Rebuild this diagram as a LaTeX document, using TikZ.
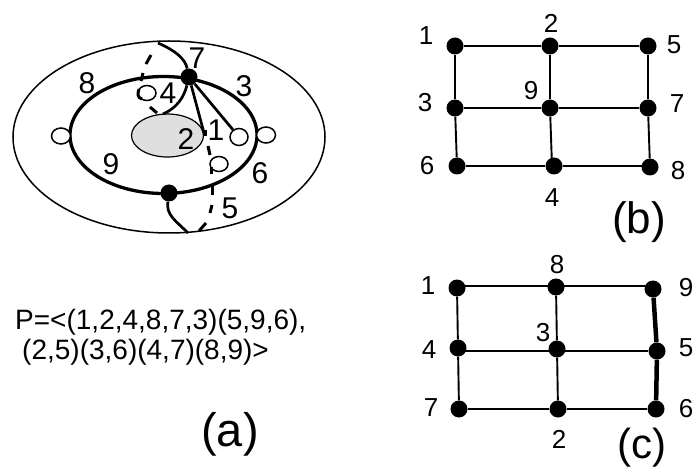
\documentclass[tikz,border=0pt]{standalone}
\usepackage{fontspec}
\setmainfont{Liberation Sans}
\usetikzlibrary{shapes.geometric}
\tikzset{
  blackdot/.style={circle,fill=black,draw=none,minimum size=17pt,inner sep=0pt},
  lbl/.style={inner sep=0pt,font=\fontsize{26}{26}\selectfont},
  albl/.style={inner sep=0pt,font=\fontsize{30}{30}\selectfont},
  caplbl/.style={inner sep=0pt,font=\fontsize{44}{44}\selectfont},
  ptext/.style={inner sep=0pt,anchor=west,font=\fontsize{28}{28}\selectfont},
  gridedge/.style={line width=1.9pt},
  thickedge/.style={line width=4.5pt},
  ring/.style={line width=3.3pt},
  cord/.style={line width=2.7pt},
  dashcord/.style={line width=3pt},
  loopc/.style={draw,line width=1.5pt,fill=white,ellipse,inner sep=0pt}
}
\begin{document}
\begin{tikzpicture}[x=1pt,y=-1pt]
\useasboundingbox (0,0) rectangle (693,470);
% panel (a)
\draw[line width=1.5pt] (169,137) ellipse [x radius=156,y radius=96];
\draw[ring] (163.5,135) ellipse [x radius=93.5,y radius=58.5];
\draw[line width=1.2pt,fill=gray!25] (167.5,135.5) ellipse [x radius=36,y radius=21.5];
\node[blackdot] (t) at (189,77) {};
\node[blackdot] (u) at (169,193) {};
\node[loopc,minimum width=18pt,minimum height=15pt] (c1) at (147,93) {};
\node[loopc,minimum width=18pt,minimum height=15pt] (c2) at (219,164) {};
\node[loopc,minimum width=18pt,minimum height=17pt] (c3) at (239,137) {};
\node[loopc,minimum width=19pt,minimum height=16pt] (c4) at (61,136) {};
\node[loopc,minimum width=19pt,minimum height=16pt] (c5) at (266,135) {};
\coordinate (tp) at (158,43);
\coordinate (bt) at (188,233);
\coordinate (g) at (163,114);
\coordinate (h) at (204,133);
\draw[cord] (t) .. controls (185,58) and (174,50) .. (tp);
\draw[cord] (t) .. controls (184,97) and (177,108) .. (g);
\draw[cord] (t) -- (h);
\draw[cord] (t) -- (c3);
\draw[cord] (u) .. controls (166,215) and (175,220) .. (bt);
% dashed continuation
\draw[dashcord] (151,55) -- (146,64);
\draw[dashcord] (143,73) -- (141,81);
\draw[dashcord] (139,89) .. controls (137,95) and (138,98) .. (142,99);
\draw[dashcord] (150,107) -- (157,113);
\draw[dashcord] (208,146) -- (210,155);
\draw[dashcord] (211,167) -- (211,174);
\draw[dashcord] (212,186) -- (212,195);
\draw[dashcord] (212,205) -- (210,213);
\draw[dashcord] (206,223) -- (199,231);
\draw[dashcord] (205,130) -- (205,136);
% labels
\node[albl] (l7) at (197,58) {7};
\node[albl] (l8) at (87,83) {8};
\node[albl] (l3) at (244,86) {3};
\node[albl] (l4) at (168,93) {4};
\node[albl] (l2) at (186,139) {2};
\node[albl] (l1) at (216,130) {1};
\node[albl] (l9) at (111,164) {9};
\node[albl] (l6) at (260,173) {6};
\node[albl] (l5) at (230,208) {5};
\node[ptext] (p1) at (15,322) {P=<(1,2,4,8,7,3)(5,9,6),};
\node[ptext] (p2) at (22,352) {(2,5)(3,6)(4,7)(8,9)>};
\node[caplbl,font=\fontsize{47}{47}\selectfont] (ca) at (230,434) {(a)};
% panel (b)
\node[blackdot] (b1) at (455,46) {};
\node[blackdot] (b2) at (550,46) {};
\node[blackdot] (b5) at (648,46) {};
\node[blackdot] (b3) at (455,108) {};
\node[blackdot] (b9) at (550,108) {};
\node[blackdot] (b7) at (648,108) {};
\node[blackdot] (b6) at (457,166) {};
\node[blackdot] (b4) at (554,166) {};
\node[blackdot] (b8) at (650,167) {};
\draw[gridedge] (b1)--(b2); \draw[gridedge] (b2)--(b5);
\draw[gridedge] (b3)--(b9); \draw[gridedge] (b9)--(b7);
\draw[gridedge] (b6)--(b4); \draw[gridedge] (b4)--([yshift=1pt]b8.center);
\draw[gridedge] (b1)--(b3); \draw[gridedge] (b3)--(b6);
\draw[gridedge] (b2)--(b9); \draw[gridedge] (b9)--([xshift=-2pt]b4.center);
\draw[gridedge] (b5)--(b7); \draw[gridedge] (b7)--(b8);
\node[lbl] (tb1) at (426,36) {1};
\node[lbl] (tb2) at (551,23) {2};
\node[lbl] (tb5) at (674,45) {5};
\node[lbl] (tb3) at (425,103) {3};
\node[lbl] (tb9) at (531,91) {9};
\node[lbl] (tb7) at (677,104) {7};
\node[lbl] (tb6) at (427,166) {6};
\node[lbl] (tb8) at (678,171) {8};
\node[lbl] (tb4) at (552,198) {4};
\node[caplbl] (cb) at (639,222) {(b)};
% panel (c)
\node[blackdot] (c1n) at (457,288) {};
\node[blackdot] (c8n) at (556,287) {};
\node[blackdot] (c9n) at (653,289) {};
\node[blackdot] (c4n) at (458,348) {};
\node[blackdot] (c3n) at (557,349) {};
\node[blackdot] (c5n) at (657,351) {};
\node[blackdot] (c7n) at (459,409) {};
\node[blackdot] (c2n) at (558,409) {};
\node[blackdot] (c6n) at (656,409) {};
\draw[gridedge] ([yshift=2pt]c1n.center)--([yshift=1pt]c8n.center); \draw[gridedge] ([yshift=1pt]c8n.center)--([yshift=3pt]c9n.center);
\draw[gridedge] ([yshift=-3pt]c4n.center)--([yshift=-2pt]c3n.center); \draw[gridedge] ([yshift=-2pt]c3n.center)--(c5n);
\draw[gridedge] (c7n)--(c2n); \draw[gridedge] (c2n)--(c6n);
\draw[gridedge] (c1n)--(c4n); \draw[gridedge] (c4n)--(c7n);
\draw[gridedge] (c8n)--(c3n); \draw[gridedge] (c3n)--(c2n);
\draw[thickedge] (c9n)--(c5n); \draw[thickedge] (c5n)--(c6n);
\node[lbl] (tc1) at (428,286) {1};
\node[lbl] (tc8) at (557,265) {8};
\node[lbl] (tc9) at (686,288) {9};
\node[lbl] (tc4) at (429,350) {4};
\node[lbl] (tc3) at (543,333) {3};
\node[lbl] (tc5) at (686,348) {5};
\node[lbl] (tc7) at (431,408) {7};
\node[lbl] (tc6) at (686,409) {6};
\node[lbl] (tc2) at (559,439) {2};
\node[caplbl,font=\fontsize{42}{42}\selectfont] (cc) at (642,448) {(c)};
\end{tikzpicture}
\end{document}
